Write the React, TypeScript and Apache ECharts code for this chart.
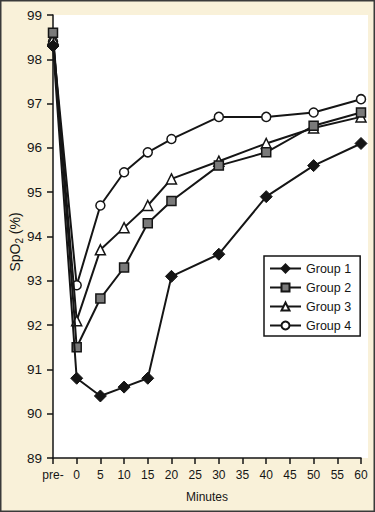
import React, { useEffect, useRef } from 'react';
import * as echarts from 'echarts';

const minutes = [-5, 0, 5, 10, 15, 20, 30, 40, 50, 60];
const group1 = [98.3, 90.8, 90.4, 90.6, 90.8, 93.1, 93.6, 94.9, 95.6, 96.1];
const group2 = [98.6, 91.5, 92.6, 93.3, 94.3, 94.8, 95.6, 95.9, 96.5, 96.8];
const group3 = [98.45, 92.1, 93.7, 94.2, 94.7, 95.3, 95.7, 96.1, 96.45, 96.7];
const group4 = [98.4, 92.9, 94.7, 95.45, 95.9, 96.2, 96.7, 96.7, 96.8, 97.1];
const seriesNames = ['Group 1', 'Group 2', 'Group 3', 'Group 4'];

const FONT = '"Liberation Sans", Arial, Helvetica, sans-serif';
const INK = '#151515';

export default function App() {
  const ref = useRef<HTMLDivElement>(null);

  useEffect(() => {
    if (!ref.current) return;
    const chart = echarts.init(ref.current, undefined, { renderer: 'svg' });
    const pair = (vals: number[]) => minutes.map((m, i) => [m, vals[i]]);
    const base = {
      type: 'line' as const,
      lineStyle: { color: INK, width: 2 },
      itemStyle: { color: INK, borderColor: INK, borderWidth: 1.5 },
      emphasis: { disabled: true },
    };
    chart.setOption({
      animation: false,
      backgroundColor: '#f9f1d9',
      textStyle: { fontFamily: FONT },
      graphic: [
        {
          type: 'rect',
          z: -10,
          silent: true,
          shape: { x: 53, y: 15, width: 315, height: 443 },
          style: { fill: '#ffffff' },
        },
        {
          type: 'rect',
          z: 100,
          silent: true,
          shape: { x: 0.75, y: 0.75, width: 373.5, height: 510.5 },
          style: { fill: 'none', stroke: '#3a3a3a', lineWidth: 1.5 },
        },
        {
          type: 'text',
          silent: true,
          x: 13,
          y: 242,
          rotation: Math.PI / 2,
          style: {
            text: '{a|SpO}{b|2}{a| (%)}',
            align: 'center',
            verticalAlign: 'middle',
            rich: {
              a: { fontSize: 14, fill: INK, fontFamily: FONT, verticalAlign: 'bottom', lineHeight: 17 },
              b: { fontSize: 10, fill: INK, fontFamily: FONT, verticalAlign: 'bottom', lineHeight: 13, padding: [0, 0, -3, 0] },
            },
          },
        },
      ],
      grid: { left: 53, top: 15, right: 14, bottom: 54, containLabel: false, outerBoundsMode: 'none' },
      legend: {
        data: seriesNames,
        orient: 'vertical',
        left: 264,
        top: 256,
        padding: [6, 9, 4, 5],
        itemWidth: 31,
        itemHeight: 10,
        itemGap: 6,
        backgroundColor: '#ffffff',
        borderColor: INK,
        borderWidth: 1.5,
        borderRadius: 0,
        textStyle: { color: INK, fontSize: 12.5, fontFamily: FONT },
        selectedMode: false,
      },
      xAxis: {
        type: 'value',
        min: -5,
        max: 60,
        interval: 5,
        name: 'Minutes',
        nameLocation: 'middle',
        nameGap: 33,
        nameTextStyle: { color: INK, fontSize: 12, fontFamily: FONT },
        axisLine: { show: true, onZero: false, lineStyle: { color: INK, width: 1.5 } },
        axisTick: { show: true, inside: false, length: 6, lineStyle: { color: INK, width: 1.5 } },
        axisLabel: {
          color: INK,
          fontSize: 12,
          margin: 11,
          fontFamily: FONT,
          formatter: (v: number) => (v === -5 ? 'pre-' : String(v)),
        },
        splitLine: { show: false },
      },
      yAxis: {
        type: 'value',
        min: 89,
        max: 99,
        interval: 1,
        axisLine: { show: true, onZero: false, lineStyle: { color: INK, width: 1.5 } },
        axisTick: { show: true, inside: false, length: 6, lineStyle: { color: INK, width: 1.5 } },
        axisLabel: { color: INK, fontSize: 13.5, margin: 11, fontFamily: FONT },
        splitLine: { show: false },
      },
      series: [
        {
          ...base,
          name: seriesNames[0],
          data: pair(group1),
          symbol: 'diamond',
          symbolSize: [12, 12],
          itemStyle: { color: INK, borderColor: INK, borderWidth: 1 },
          z: 5,
        },
        {
          ...base,
          name: seriesNames[1],
          data: pair(group2),
          symbol: 'rect',
          symbolSize: 9,
          itemStyle: { color: '#7a7a7a', borderColor: INK, borderWidth: 1.5 },
          z: 4,
        },
        {
          ...base,
          name: seriesNames[2],
          data: pair(group3),
          symbol: 'triangle',
          symbolSize: 10,
          itemStyle: { color: '#ffffff', borderColor: INK, borderWidth: 1.5 },
          z: 3,
        },
        {
          ...base,
          name: seriesNames[3],
          data: pair(group4),
          symbol: 'circle',
          symbolSize: 9,
          itemStyle: { color: '#ffffff', borderColor: INK, borderWidth: 1.5 },
          z: 2,
        },
      ],
    });
    return () => chart.dispose();
  }, []);

  return (
    <div
      ref={ref}
      style={{ position: 'fixed', left: 0, top: 0, width: 375, height: 512 }}
    />
  );
}
